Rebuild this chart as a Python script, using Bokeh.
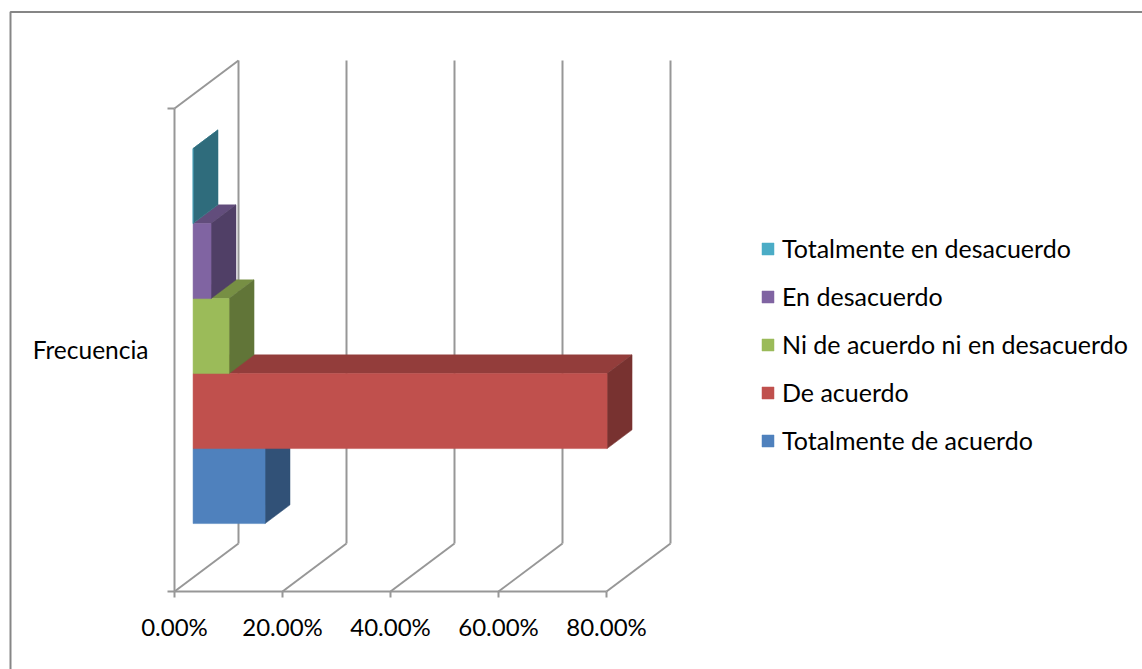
from bokeh.plotting import figure
from bokeh.models import Range1d, Legend, LegendItem
from bokeh.core.properties import value
from bokeh.embed import file_html
from bokeh.resources import INLINE

# ---------------- data ----------------
category = "Frecuencia"
series_names = ["Totalmente de acuerdo", "De acuerdo",
                "Ni de acuerdo ni en desacuerdo", "En desacuerdo",
                "Totalmente en desacuerdo"]
series_values = [13.33, 76.67, 6.67, 3.33, 0.0]          # percent
x_ticks = [0, 20, 40, 60, 80]
x_tick_labels = ["0.00%", "20.00%", "40.00%", "60.00%", "80.00%"]
front_colors = ["#4F81BD", "#C0504D", "#9BBB59", "#8064A2", "#4BACC6"]

# ---------------- layout constants ----------------
W, H = 1142, 669
ORIGIN_PX = 174        # screen x of 0 %
PX_PER_PCT = 5.4
BASE_PY = 591          # screen y of floor front edge
WALL_H = 483           # wall height in px
DEPTH_DX_PX, DEPTH_DY_PX = 64, 48
Z_FRONT, Z_BACK = 0.29, 0.68
SLOT = 75
FONT = "Lato"
GRID = "#979797"


def shade(hexcol, f):
    h = hexcol.lstrip("#")
    r, g, b = (int(h[i:i + 2], 16) for i in (0, 2, 4))
    return "#%02x%02x%02x" % (int(r * f), int(g * f), int(b * f))


def proj(v, h, z):
    return v + z * DEPTH_DX_PX / PX_PER_PCT, h + z * DEPTH_DY_PX


def px_x(px):
    return (px - ORIGIN_PX) / PX_PER_PCT


def py_h(py):
    return BASE_PY - py


p = figure(width=W, height=H, x_range=Range1d(px_x(0), px_x(W)),
           y_range=Range1d(py_h(H), py_h(0)),
           x_axis_location=None, y_axis_location=None,
           toolbar_location=None, output_backend="svg",
           min_border=0, outline_line_color=None,
           background_fill_color="white", border_fill_color="white")
p.grid.visible = False

# chart area border (left + top)
p.line([px_x(10), px_x(10), px_x(W + 5)], [py_h(H + 5), py_h(11.5), py_h(11.5)],
       line_color="#868686", line_width=2)

# ---------------- walls / grid ----------------
xs, ys = [], []
top_v = x_ticks[-1]
for v in x_ticks:
    a, b = proj(v, 0, 1), proj(v, WALL_H, 1)
    xs.append([a[0], b[0]]); ys.append([a[1], b[1]])          # back wall line
    a, b = proj(v, 0, 0), proj(v, 0, 1)
    xs.append([a[0], b[0]]); ys.append([a[1], b[1]])          # floor line
    xs.append([v, v]); ys.append([0, -6])                     # tick
a, b = proj(0, 0, 0), proj(top_v, 0, 0)
xs.append([a[0], b[0]]); ys.append([a[1], b[1]])              # front axis
a, b = proj(0, 0, 0), proj(0, WALL_H, 0)
xs.append([a[0], b[0]]); ys.append([a[1], b[1]])              # left axis
a, b = proj(0, WALL_H, 0), proj(0, WALL_H, 1)
xs.append([a[0], b[0]]); ys.append([a[1], b[1]])              # wall top
for hh in (0, WALL_H):
    xs.append([px_x(ORIGIN_PX - 7), 0]); ys.append([hh, hh])  # left ticks
p.multi_line(xs, ys, line_color=GRID, line_width=2)

# ---------------- bars ----------------
group_bottom = WALL_H / 2 - len(series_values) * SLOT / 2
front_renderers = []
for i, (v, col) in enumerate(zip(series_values, front_colors)):
    h0 = group_bottom + i * SLOT
    h1 = h0 + SLOT
    top = [proj(0, h1, Z_FRONT), proj(v, h1, Z_FRONT), proj(v, h1, Z_BACK), proj(0, h1, Z_BACK)]
    side = [proj(v, h0, Z_FRONT), proj(v, h0, Z_BACK), proj(v, h1, Z_BACK), proj(v, h1, Z_FRONT)]
    front = [proj(0, h0, Z_FRONT), proj(v, h0, Z_FRONT), proj(v, h1, Z_FRONT), proj(0, h1, Z_FRONT)]
    tc, sc = shade(col, 0.77), shade(col, 0.63)
    p.patch([q[0] for q in top], [q[1] for q in top], fill_color=tc, line_color=tc, line_width=0.5)
    p.patch([q[0] for q in side], [q[1] for q in side], fill_color=sc, line_color=sc, line_width=0.5)
    r = p.patch([q[0] for q in front], [q[1] for q in front], fill_color=col,
                line_color=col, line_width=0.5)
    front_renderers.append(r)

# ---------------- texts ----------------
p.text(x=x_ticks, y=[py_h(626)] * len(x_ticks), text=x_tick_labels,
       text_font=value(FONT), text_font_size="24px", text_color="black",
       text_align="center", text_baseline="alphabetic")
p.text(x=[px_x(148)], y=[py_h(349)], text=[category],
       text_font=value(FONT), text_font_size="24.5px", text_color="black",
       text_align="right", text_baseline="alphabetic")

# ---------------- legend ----------------
items = [LegendItem(label=n, renderers=[r])
         for n, r in zip(series_names, front_renderers)][::-1]
legend = Legend(items=items, location=(760, H - 464),
                glyph_width=15, glyph_height=15, label_standoff=7,
                label_height=48, spacing=0, padding=0, margin=0,
                label_text_font=FONT, label_text_font_size="25px",
                label_text_color="black",
                border_line_alpha=0, background_fill_alpha=0)
p.add_layout(legend, "center")

open("out.html", "w").write(file_html(p, INLINE))
